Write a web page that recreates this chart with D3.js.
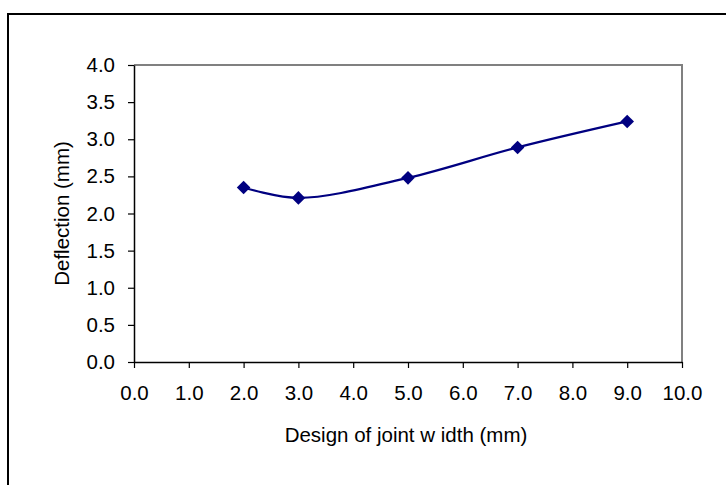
<!DOCTYPE html>
<html>
<head>
<meta charset="utf-8">
<script src="https://cdn.jsdelivr.net/npm/d3@7"></script>
<style>
  body { margin: 0; background: #fff; }
  text { font-family: "Liberation Sans", Arial, sans-serif; fill: #000; }
</style>
</head>
<body>
<svg id="chart" width="726" height="485"></svg>
<script>
(function() {
  // data
  const jointWidth = [2, 3, 5, 7, 9];
  const deflection = [2.35, 2.21, 2.48, 2.89, 3.24];
  const xTicks = [0, 1, 2, 3, 4, 5, 6, 7, 8, 9, 10];
  const yTicks = [0, 0.5, 1, 1.5, 2, 2.5, 3, 3.5, 4];

  const svg = d3.select('#chart');
  const plot = { left: 134, top: 65, right: 682, bottom: 362 };
  const fontSize = '20.5px';

  // outer frame (right / bottom run off the picture)
  svg.append('rect')
    .attr('x', 8).attr('y', 14)
    .attr('width', 740).attr('height', 500)
    .attr('fill', 'none').attr('stroke', '#000').attr('stroke-width', 2);

  const x = d3.scaleLinear().domain([0, 10]).range([plot.left, plot.right]);
  const y = d3.scaleLinear().domain([0, 4]).range([plot.bottom, plot.top]);

  // plot area border: gray top and right
  svg.append('path')
    .attr('d', `M${plot.left},${plot.top}H${plot.right}V${plot.bottom}`)
    .attr('fill', 'none').attr('stroke', '#808080').attr('stroke-width', 2);

  const xAxis = svg.append('g')
    .attr('transform', `translate(0,${plot.bottom})`)
    .call(d3.axisBottom(x).tickValues(xTicks).tickFormat(d3.format('.1f'))
      .tickSizeInner(6).tickSizeOuter(0).tickPadding(17));
  const yAxis = svg.append('g')
    .attr('transform', `translate(${plot.left},0)`)
    .call(d3.axisLeft(y).tickValues(yTicks).tickFormat(d3.format('.1f'))
      .tickSizeInner(6).tickSizeOuter(0).tickPadding(13));

  [xAxis, yAxis].forEach(function(a) {
    a.select('.domain').attr('stroke', '#000').attr('stroke-width', 1.5);
    a.selectAll('.tick line').attr('stroke', '#000').attr('stroke-width', 1.2);
    a.selectAll('text')
      .style('font-family', '"Liberation Sans", Arial, sans-serif')
      .style('font-size', fontSize).attr('fill', '#000');
  });

  // axis titles
  svg.append('text')
    .attr('x', (plot.left + plot.right) / 2 - 2).attr('y', 442)
    .attr('text-anchor', 'middle').style('font-size', fontSize)
    .text('Design of joint w idth (mm)');
  svg.append('text')
    .attr('transform', `translate(69,${(plot.top + plot.bottom) / 2}) rotate(-90)`)
    .attr('text-anchor', 'middle').style('font-size', fontSize)
    .text('Deflection (mm)');

  const points = jointWidth.map((d, i) => [d, deflection[i]]);

  const line = d3.line()
    .x(d => x(d[0])).y(d => y(d[1]))
    .curve(d3.curveCatmullRom.alpha(0.5));

  svg.append('path')
    .datum(points)
    .attr('d', line)
    .attr('fill', 'none').attr('stroke', '#000080').attr('stroke-width', 2.2);

  svg.selectAll('.marker')
    .data(points)
    .enter().append('path')
    .attr('class', 'marker')
    .attr('d', d3.symbol().type(d3.symbolSquare).size(92))
    .attr('transform', d => `translate(${x(d[0])},${y(d[1])}) rotate(45)`)
    .attr('fill', '#000080');
})();
</script>
</body>
</html>
